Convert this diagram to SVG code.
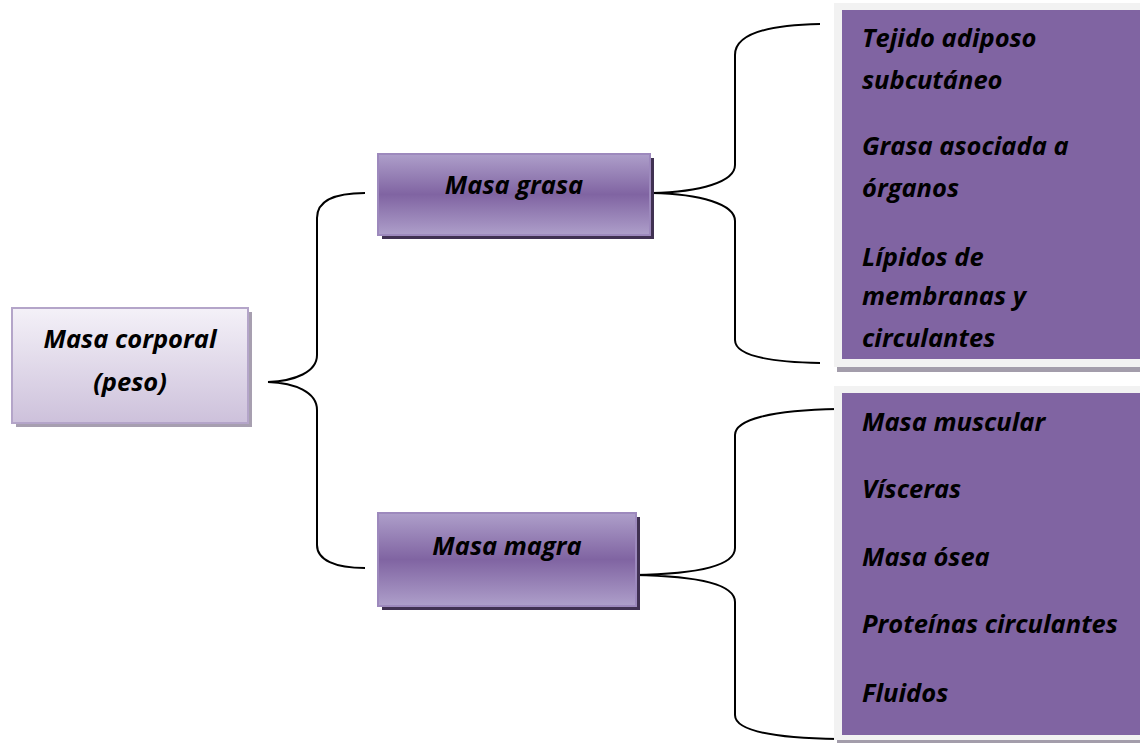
<svg xmlns="http://www.w3.org/2000/svg" width="1140" height="745" viewBox="0 0 1140 745">
  <style>
    .t { font-family: "Open Sans", Lato, "Liberation Sans", sans-serif; font-weight: bold; font-style: italic; font-size: 25.5px; fill: #000; }
    .c { text-anchor: middle; }
    .br { fill: none; stroke: #000; stroke-width: 2; }
    .panelBorder { fill: #f2f2f2; }
    .panel { fill: #8064a2; }
    .panelLine { fill: #a39dab; }
  </style>
  <defs>
    <linearGradient id="gLight" x1="0" y1="0" x2="0" y2="1">
      <stop offset="0" stop-color="#f4f1f8"/>
      <stop offset="1" stop-color="#cdc1db"/>
    </linearGradient>
    <linearGradient id="gMid" x1="0" y1="0" x2="0" y2="1">
      <stop offset="0" stop-color="#ae9fca"/>
      <stop offset="0.5" stop-color="#8064a2"/>
      <stop offset="1" stop-color="#ae9fca"/>
    </linearGradient>
  </defs>
  <rect width="1140" height="745" fill="#ffffff"/>

  <g id="connectors">
    <path class="br" d="M365,193 C335,193 317,200 317,218 L317,355 C317,372 295,381 268,382 C295,383 317,392 317,410 L317,545 C317,560 335,568 365,568"/>
    <path class="br" d="M820,24 C765,25 735,35 735,55 L735,165 C735,182 700,192 652,193 C700,194 735,204 735,221 L735,340 C735,355 765,362 820,363"/>
    <path class="br" d="M838,409 C770,410 735,420 735,435 L735,548 C735,565 700,574 634,575 C700,576 735,585 735,602 L735,715 C735,730 770,738 838,739"/>
  </g>

  <g id="masa-corporal">
    <rect x="16" y="312" width="236" height="115" fill="#a79fb0"/>
    <rect x="12" y="308" width="236" height="115" fill="url(#gLight)" stroke="#b4a5c9" stroke-width="2"/>
    <text class="t c" x="130" y="348">Masa corporal</text>
    <text class="t c" x="130" y="391">(peso)</text>
  </g>

  <g id="masa-grasa">
    <rect x="382" y="158" width="272" height="81" fill="#403152"/>
    <rect x="378" y="154" width="272" height="81" fill="url(#gMid)" stroke="#9d89bd" stroke-width="2"/>
    <text class="t c" x="514" y="194">Masa grasa</text>
  </g>

  <g id="masa-magra">
    <rect x="382" y="517" width="258" height="93" fill="#403152"/>
    <rect x="378" y="513" width="258" height="93" fill="url(#gMid)" stroke="#9d89bd" stroke-width="2"/>
    <text class="t c" x="507" y="555">Masa magra</text>
  </g>

  <g id="masa-grasa-items">
    <rect class="panelLine" x="837" y="367" width="303" height="5"/>
    <rect class="panelBorder" x="834" y="3" width="306" height="364"/>
    <rect class="panel" x="842" y="10" width="298" height="349"/>
    <text class="t" x="862" y="47">Tejido adiposo</text>
    <text class="t" x="862" y="89">subcutáneo</text>
    <text class="t" x="862" y="155">Grasa asociada a</text>
    <text class="t" x="862" y="197">órganos</text>
    <text class="t" x="862" y="266">Lípidos de</text>
    <text class="t" x="862" y="305">membranas y</text>
    <text class="t" x="862" y="347">circulantes</text>
  </g>

  <g id="masa-magra-items">
    <rect class="panelLine" x="837" y="740" width="303" height="3"/>
    <rect class="panelBorder" x="834" y="386" width="306" height="354"/>
    <rect class="panel" x="842" y="393" width="298" height="342"/>
    <text class="t" x="862" y="431">Masa muscular</text>
    <text class="t" x="862" y="498">Vísceras</text>
    <text class="t" x="862" y="566">Masa ósea</text>
    <text class="t" x="862" y="633">Proteínas circulantes</text>
    <text class="t" x="862" y="702">Fluidos</text>
  </g>
</svg>
